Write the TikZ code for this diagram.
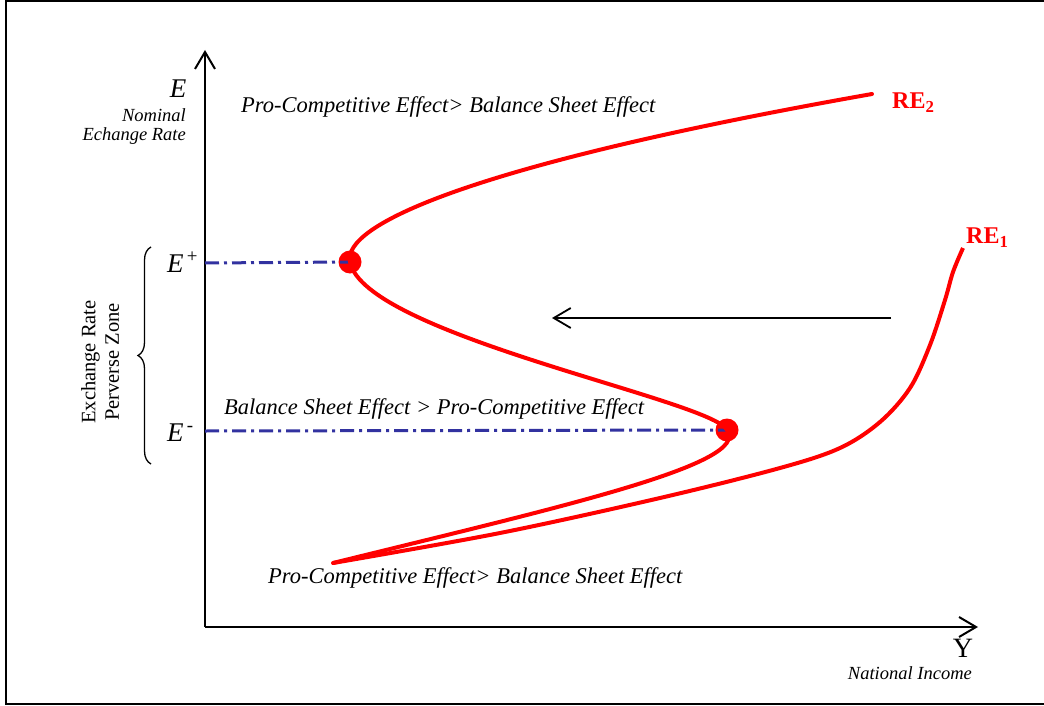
\documentclass[tikz,border=0pt]{standalone}
\usepackage{fontspec}
\setmainfont{Liberation Serif}
\usetikzlibrary{arrows.meta,decorations.pathreplacing}
\definecolor{curvered}{RGB}{255,0,0}
\definecolor{dashblue}{RGB}{50,50,160}
\tikzset{
  axis/.style={line width=2pt,-{Straight Barb[length=17pt,width=20pt,line width=2pt]}},
  recurve/.style={curvered,line width=4pt},
  guide/.style={dashblue,line width=3pt,dash pattern=on 14pt off 5pt on 3pt off 5pt},
  eqdot/.style={circle,fill=curvered,inner sep=0pt,minimum size=23pt},
  lab/.style={inner sep=0pt,font=\fontsize{22.5}{26}\selectfont\itshape},
  biglab/.style={inner sep=0pt,font=\fontsize{27}{30}\selectfont\itshape},
  small/.style={inner sep=0pt,font=\fontsize{18.5}{22}\selectfont\itshape},
  relab/.style={inner sep=0pt,text=curvered,font=\fontsize{24}{26}\selectfont\bfseries},
}
\begin{document}
\begin{tikzpicture}[x=1pt,y=-1pt]
\useasboundingbox (0,0) rectangle (1044,706);
% frame
\draw[line width=2pt] (1050,1) -- (6,1) -- (6,704) -- (1050,704);
% axes
\coordinate (O) at (205,627);
\coordinate (ytop) at (205,50);
\coordinate (xend) at (978,627);
\draw[axis] (O) -- (ytop);
\draw[axis] (O) -- (xend);
% labels on axes
\node[biglab] (E) at (178,89) {E};
\node[small,anchor=east] (nom) at (186,115) {Nominal};
\node[small,anchor=east] (ech) at (186,136) {Echange Rate};
\node[inner sep=0pt,font=\fontsize{28}{30}\selectfont] (Y) at (963,648) {Y};
\node[small,anchor=east] (ni) at (972,673) {National Income};
% equilibria
\node[eqdot] (Ep) at (350,262) {};
\node[eqdot] (Em) at (727,430) {};
\coordinate (ayp) at (205,263);
\coordinate (aym) at (205,431);
\draw[guide] (ayp) -- (Ep.center);
\draw[guide] (aym) -- (Em.center);
\node[biglab,anchor=base west] (Eplus) at (167,272) {E\textsuperscript{\,\upshape +}};
\node[biglab,anchor=base west] (Eminus) at (167,441) {E\textsuperscript{\,\upshape -}};
% brace
\coordinate (bt) at (151,247);
\coordinate (bb) at (151,464);
\draw[line width=1.3pt,decorate,decoration={brace,amplitude=13pt}] (bb) -- (bt);
\node[inner sep=0pt,rotate=90,align=center,font=\fontsize{20.5}{23.5}\selectfont] (zone) at (100,362) {Exchange Rate\\Perverse Zone};
% curves
\coordinate (start) at (333,563);
\coordinate (re2end) at (872,94);
\coordinate (re1end) at (963,248);
\draw[recurve,line cap=round] (start) .. controls (560,507) and (752,464) .. (Em.center)
   .. controls (712,400) and (365,335) .. (Ep.center)
   .. controls (342,225) and (470,165) .. (re2end);
\draw[recurve] plot[smooth,tension=0.55] coordinates {(start) (500,533) (660,498) (780,468) (840,448) (880,422) (910,388) (930,345) (945,300) (953,272) (re1end)};
\node[relab,anchor=west] (re2) at (892,103) {RE\textsubscript{2}};
\node[relab,anchor=west] (re1) at (966,238) {RE\textsubscript{1}};
% shift arrow
\coordinate (sa) at (891,318);
\coordinate (sb) at (552,318);
\draw[line width=1.8pt,-{Straight Barb[length=17pt,width=20pt,line width=1.8pt]}] (sa) -- (sb);
% texts
\node[lab,anchor=west] (t1) at (241,107) {Pro-Competitive Effect> Balance Sheet Effect};
\node[lab,anchor=west] (t2) at (224,409) {Balance Sheet Effect > Pro-Competitive Effect};
\node[lab,anchor=west] (t3) at (268,578) {Pro-Competitive Effect> Balance Sheet Effect};
\end{tikzpicture}
\end{document}
